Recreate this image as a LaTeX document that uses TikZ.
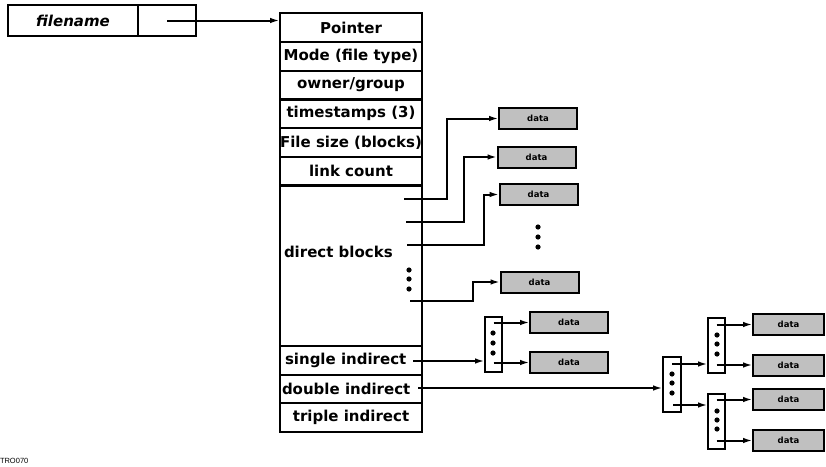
\documentclass[tikz,border=0pt]{standalone}
\usepackage{fontspec}
\setmainfont{DejaVu Sans}
\newfontfamily\smallfont{Liberation Sans}
\usetikzlibrary{arrows.meta,calc}
\definecolor{datagray}{RGB}{192,192,192}
\begin{document}
\begin{tikzpicture}[x=1pt,y=-1pt,
  line width=2pt,
  every node/.style={inner sep=0pt,outer sep=0pt},
  lab/.style={font=\bfseries\fontsize{15}{18}\selectfont},
  row/.style={draw,lab,minimum width=142pt,minimum height=29pt},
  cellbox/.style={draw,minimum height=31pt},
  databox/.style={draw,fill=datagray,minimum width=78pt,minimum height=21pt,font=\bfseries\fontsize{8.5}{10}\selectfont},
  rdatabox/.style={databox,minimum width=71pt},
  indbox/.style={draw,minimum width=17pt,minimum height=55pt},
  arr/.style={-{Latex[length=10pt,width=5.5pt]}},
  dotc/.style={fill=black,draw=none},
]
\useasboundingbox (0,0) rectangle (826,466);

% filename entry
\node[cellbox,minimum width=130pt,font=\bfseries\itshape\fontsize{15}{18}\selectfont] (fname) at (73,20.5) {filename};
\node[cellbox,minimum width=58pt] (fcell) at (167,20.5) {};

% inode
\node[row] (pointer) at (351,27.5) {Pointer};
\node[row] (mode) at (351,56.5) {Mode (file type)};
\node[row] (owner) at (351,85) {owner/group};
\node[row] (times) at (351,113.5) {timestamps (3)};
\node[row] (fsize) at (351,142.5) {File size (blocks)};
\node[row] (links) at (351,171) {link count};
\node[row,minimum height=161pt] (direct) at (351,265.5) {};
\node[lab,anchor=west] (directlab) at (284,252) {direct blocks};
\node[row,minimum height=28.5pt] (single) at (351,360.25) {};
\node[lab,anchor=west] (singlelab) at (285,360) {single indirect};
\node[row,minimum height=28.5pt] (double) at (351,388.75) {};
\node[lab,anchor=west] (doublelab) at (282,389) {double indirect};
\node[row] (triple) at (351,417.5) {triple indirect};

\draw[arr] (fcell.center) -- (fcell.center -| pointer.west);

% direct data blocks
\node[databox] (data1) at (538,118.5) {data};
\node[databox] (data2) at (536.5,157) {data};
\node[databox] (data3) at (538.5,194.5) {data};
\node[databox] (data4) at (539.5,282) {data};

\coordinate (d1) at (404,199);
\coordinate (d2) at (406,222);
\coordinate (d3) at (407,245);
\coordinate (d4) at (410,301);
\draw[arr] (d1) -| ([xshift=-52pt]data1.west) -- (data1.west);
\draw[arr] (d2) -| ([xshift=-34pt]data2.west) -- (data2.west);
\draw[arr] (d3) -| ([xshift=-16pt]data3.west) -- (data3.west);
\draw[arr] (d4) -| ([xshift=-28pt]data4.west) -- (data4.west);

\foreach \yy in {227,237,247} \fill[dotc] (538,\yy) circle (2.6pt);
\foreach \yy in {270,279,289} \fill[dotc] (409,\yy) circle (2.6pt);

% single indirect
\node[indbox] (ind1) at (493.5,344.5) {};
\node[databox] (data5) at (569,322.5) {data};
\node[databox] (data6) at (569,362.5) {data};
\coordinate (si) at (413,361);
\draw[arr] (si) -- (si -| ind1.west);
\draw[arr] (ind1.center |- data5.west) -- (data5.west);
\draw[arr] (ind1.center |- data6.west) -- (data6.west);
\foreach \yy in {333,343,353} \fill[dotc] (493,\yy) circle (2.6pt);

% double indirect
\node[indbox,minimum width=18pt] (ind2) at (672,384.5) {};
\node[indbox] (ind3) at (716.5,345.5) {};
\node[indbox] (ind4) at (716.5,421.5) {};
\node[rdatabox] (data7) at (788.5,324.5) {data};
\node[rdatabox] (data8) at (788.5,365) {data};
\node[rdatabox] (data9) at (788.5,399.5) {data};
\node[rdatabox] (data10) at (788.5,440.5) {data};
\coordinate (di) at (418,388);
\coordinate (i2a) at (672,364);
\coordinate (i2b) at (673,405);
\draw[arr] (di) -- (di -| ind2.west);
\draw[arr] (i2a) -- (i2a -| ind3.west);
\draw[arr] (i2b) -- (i2b -| ind4.west);
\draw[arr] (ind3.center |- data7.west) -- (data7.west);
\draw[arr] (ind3.center |- data8.west) -- (data8.west);
\draw[arr] (ind4.center |- data9.west) -- (data9.west);
\draw[arr] (ind4.center |- data10.west) -- (data10.west);
\foreach \yy in {374,383,393} \fill[dotc] (672,\yy) circle (2.6pt);
\foreach \yy in {335,344,354} \fill[dotc] (717,\yy) circle (2.6pt);
\foreach \yy in {411,420,429} \fill[dotc] (717,\yy) circle (2.6pt);

\node[anchor=west,font=\smallfont\fontsize{7.5}{9}\selectfont] (tag) at (0,461) {TRO070};
\end{tikzpicture}
\end{document}
